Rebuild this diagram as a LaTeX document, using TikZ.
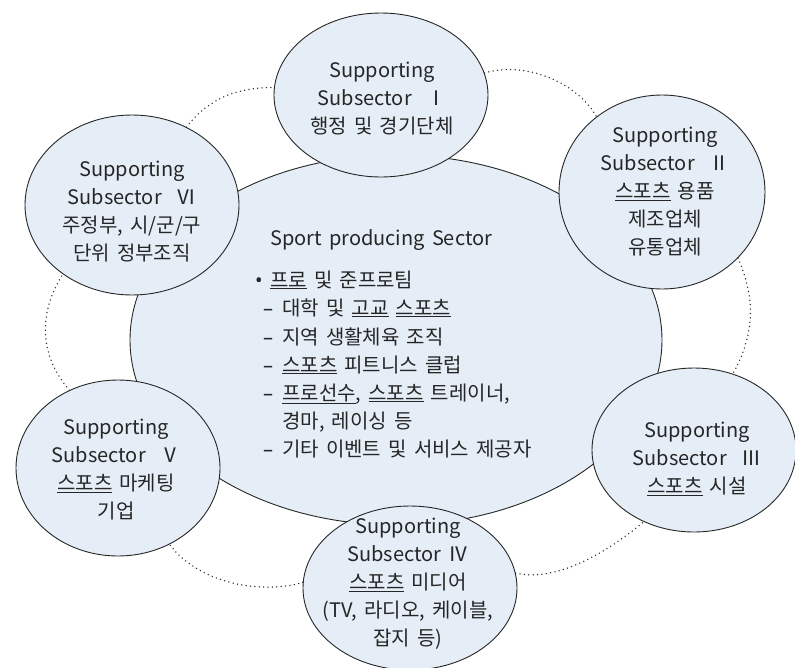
\documentclass[tikz,border=0pt]{standalone}
\usepackage{fontspec}
\setmainfont{Noto Sans CJK KR}[WordSpace=1.6]
\newfontfamily\latinf{Noto Sans}
\usetikzlibrary{shapes.geometric}
\definecolor{fillb}{HTML}{E5EEF7}
\definecolor{ink}{HTML}{262626}
\newcommand\uln[1]{\underline{#1}}
\begin{document}
\begin{tikzpicture}[x=1pt,y=-1pt,
  sat/.style={ellipse, draw=ink, fill=fillb, line width=0.9pt, inner sep=0pt},
  sattext/.style={align=center, text=ink, font=\fontsize{20}{28}\selectfont},
  listtext/.style={anchor=base west, text=ink, inner sep=0pt, font=\fontsize{20}{28}\selectfont},
  cloudline/.style={draw=ink, line width=1.5pt, dash pattern=on 0pt off 4.4pt, line cap=round}]
\useasboundingbox (0,0) rectangle (795,667);
% central sector
\node[sat, minimum width=532pt, minimum height=370pt] (c) at (396,340) {};
% satellites
\node[sat, minimum width=214pt, minimum height=164pt] (s1) at (381,95) {};
\node[sat, minimum width=206pt, minimum height=194pt] (s2) at (662,192) {};
\node[sat, minimum width=204pt, minimum height=164pt] (s3) at (694,450) {};
\node[sat, minimum width=214pt, minimum height=164pt] (s4) at (410,588) {};
\node[sat, minimum width=204pt, minimum height=176pt] (s5) at (118,468) {};
\node[sat, minimum width=214pt, minimum height=180pt] (s6) at (132,205) {};
% dotted cloud arcs
\draw[cloudline] (s6.55) .. controls +(25,-33) and +(-30,0) .. (s1.176);
\draw[cloudline] (s1.12) .. controls +(40,-12) and +(-20,-35) .. (s2.131);
\draw[cloudline] (s2.-41) .. controls +(15,35) and +(25,-45) .. (s3.63);
\draw[cloudline] (s4.8) .. controls +(45,10) and +(-30,25) .. (s3.235);
\draw[cloudline] (s4.177) .. controls +(-40,12) and +(30,40) .. (s5.-56);
\draw[cloudline] (s5.122) .. controls +(-30,-35) and +(-25,40) .. (s6.225);
% satellite texts
\node[sattext] (t1) at (382,98.5) {Supporting\\Subsector\ \ Ⅰ\\행정 및 경기단체};
\node[sattext] (t2) at (665,191.5) {Supporting\\Subsector\ \ Ⅱ\\\uln{스포츠} 용품\\제조업체\\유통업체};
\node[sattext] (t3) at (697,459) {Supporting\\Subsector\ \ Ⅲ\\\uln{스포츠} 시설};
\node[sattext] (t4) at (408,583.5) {Supporting\\Subsector Ⅳ\\\uln{스포츠} 미디어\\(TV, 라디오, 케이블,\\잡지 등)};
\node[sattext] (t5) at (116,470) {Supporting\\Subsector\ \ Ⅴ\\\uln{스포츠} 마케팅\\기업};
\node[sattext] (t6) at (132,211.5) {Supporting\\Subsector\ \ Ⅵ\\주정부, 시/군/구\\단위 정부조직};
% central texts
\node[listtext] (ct) at (270,245) {Sport producing Sector};
\node[listtext] (l1) at (255,287) {\makebox[15pt][l]{\latinf •}\uln{프로} 및 준프로팀};
\node[listtext] (l2) at (263,315) {\makebox[19pt][l]{\latinf –}대학 및 \uln{고교} \uln{스포츠}};
\node[listtext] (l3) at (263,344) {\makebox[19pt][l]{\latinf –}지역 생활체육 조직};
\node[listtext] (l4) at (263,372) {\makebox[19pt][l]{\latinf –}\uln{스포츠} 피트니스 클럽};
\node[listtext] (l5) at (263,400) {\makebox[19pt][l]{\latinf –}\uln{프로선수}, \uln{스포츠} 트레이너,};
\node[listtext] (l6) at (282,428) {경마, 레이싱 등};
\node[listtext] (l7) at (263,456) {\makebox[19pt][l]{\latinf –}기타 이벤트 및 서비스 제공자};
\end{tikzpicture}
\end{document}
